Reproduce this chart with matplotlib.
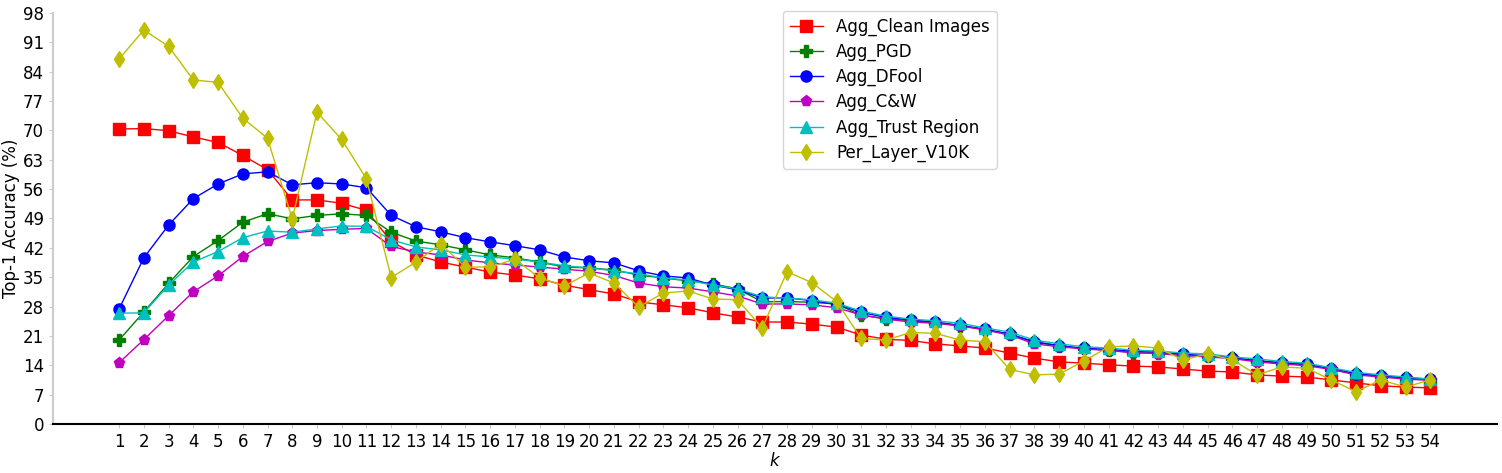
import numpy as np
import matplotlib
matplotlib.use("Agg")
import matplotlib.pyplot as plt

k = list(range(1, 55))

clean = [70.3, 70.4, 69.9, 68.4, 67.1, 64.0, 60.6, 53.4, 53.4, 52.6, 50.9,
         43.5, 40.3, 38.6, 37.4, 36.2, 35.5, 34.6, 33.1, 32.0, 31.0, 29.1, 28.4, 27.7, 26.5, 25.5,
         24.3, 24.3, 23.8, 23.1, 21.2, 20.2, 19.9, 19.1, 18.6, 18.1, 16.9, 15.7, 14.8, 14.5,
         14.1, 13.8, 13.6, 13.1, 12.6, 12.4, 11.7, 11.4, 11.2, 10.5, 9.8, 9.1, 8.8, 8.6]
pgd = [20.0, 26.7, 33.5, 39.9, 43.7, 48.1, 50.1, 48.9, 49.7, 50.1, 49.7, 45.7,
       43.6, 42.7, 41.5, 40.3, 39.6, 38.6, 37.4, 37.2, 36.7, 35.5, 34.8, 34.1, 33.4, 32.2,
       29.1, 29.2, 29.0, 28.6, 25.9, 25.1, 24.6, 24.1, 23.4, 22.5, 21.4, 19.5, 18.6, 18.0,
       17.6, 17.0, 16.9, 16.5, 16.1, 15.7, 15.0, 14.5, 14.1, 13.1, 11.9, 11.4, 10.9, 10.6]
dfool = [27.4, 39.6, 47.4, 53.7, 57.2, 59.6, 60.1, 57.0, 57.5, 57.2, 56.3, 49.7,
         47.0, 45.8, 44.4, 43.4, 42.5, 41.5, 39.8, 38.9, 38.4, 36.5, 35.3, 34.8, 33.1, 32.0,
         30.0, 30.1, 29.4, 28.5, 26.6, 25.4, 24.8, 24.3, 23.5, 22.6, 21.4, 19.6, 18.7, 18.0,
         17.8, 17.3, 17.1, 16.6, 16.3, 15.8, 15.1, 14.6, 14.2, 13.2, 12.0, 11.5, 11.0, 10.7]
cw = [14.6, 20.1, 25.8, 31.5, 35.3, 39.9, 43.5, 45.5, 46.1, 46.4, 46.6, 42.3,
      41.0, 40.3, 39.1, 38.4, 37.9, 37.4, 36.9, 36.4, 35.4, 33.6, 32.7, 32.4, 31.5, 30.5,
      28.6, 28.6, 28.4, 27.7, 26.0, 25.0, 24.3, 24.0, 23.4, 22.4, 21.2, 19.1, 18.4, 17.9,
      17.5, 17.0, 16.8, 16.3, 16.0, 15.6, 14.8, 14.3, 13.9, 13.0, 11.7, 11.2, 10.7, 10.4]
trust = [26.4, 26.5, 33.1, 38.6, 41.1, 44.4, 46.0, 45.7, 46.5, 47.2, 47.1, 43.9,
         42.2, 41.5, 40.3, 39.8, 39.3, 38.6, 37.7, 37.2, 36.5, 35.8, 34.8, 34.3, 33.1, 32.2,
         30.3, 30.0, 29.6, 28.8, 26.9, 25.7, 25.0, 24.6, 24.0, 22.9, 21.9, 20.0, 19.1, 18.4,
         18.1, 17.6, 17.4, 16.9, 16.7, 16.0, 15.5, 14.9, 14.5, 13.4, 12.3, 11.7, 11.2, 10.7]
v10k = [87.0, 93.9, 90.0, 82.0, 81.4, 72.9, 68.1, 48.8, 74.3, 67.8, 58.4, 34.9,
        38.6, 42.9, 37.4, 37.4, 39.3, 34.8, 32.9, 36.0, 33.6, 27.9, 31.2, 31.7, 29.8, 29.6,
        22.9, 36.3, 33.7, 29.2, 20.4, 20.0, 21.8, 21.6, 20.0, 19.6, 13.0, 11.7, 11.9, 15.0,
        18.4, 18.6, 18.1, 15.3, 16.7, 15.3, 11.7, 13.6, 13.3, 10.5, 7.7, 10.5, 8.8, 10.5]

yticks = list(range(0, 99, 7))

fig = plt.figure(figsize=(15.02, 4.73), dpi=100)
ax = fig.add_axes([0.0353, 0.1036, 0.9614, 0.8694])

series = [
    (clean, 'r', 's', 'Agg_Clean Images'),
    (pgd, 'g', 'P', 'Agg_PGD'),
    (dfool, 'b', 'o', 'Agg_DFool'),
    (cw, 'm', 'p', 'Agg_C&W'),
    (trust, 'c', '^', 'Agg_Trust Region'),
    (v10k, 'y', 'd', 'Per_Layer_V10K'),
]
for vals, col, mk, lab in series:
    ax.plot(k, vals, color=col, marker=mk, markersize=8, linewidth=1.0, label=lab)

ax.set_xticks(k)
ax.set_xlim(-1.67, 56.7)
ax.set_yticks(yticks)
ax.set_ylim(0, 98)
ax.tick_params(labelsize=12, color='#cccccc', length=3)
ax.spines['top'].set_visible(False)
ax.spines['right'].set_visible(False)
ax.spines['left'].set_color('#cccccc')
ax.spines['left'].set_linewidth(1.5)
ax.spines['bottom'].set_color('black')
ax.spines['bottom'].set_linewidth(1.5)
ax.set_xlabel('$k$', fontsize=12, labelpad=1)
ax.set_ylabel('Top-1 Accuracy (%)', fontsize=12, labelpad=2)

ax.legend(loc='upper left', bbox_to_anchor=(0.5055, 1.005), borderaxespad=0,
          fontsize=12, frameon=True, labelspacing=0.42)

fig.savefig('out.png', dpi=100)
